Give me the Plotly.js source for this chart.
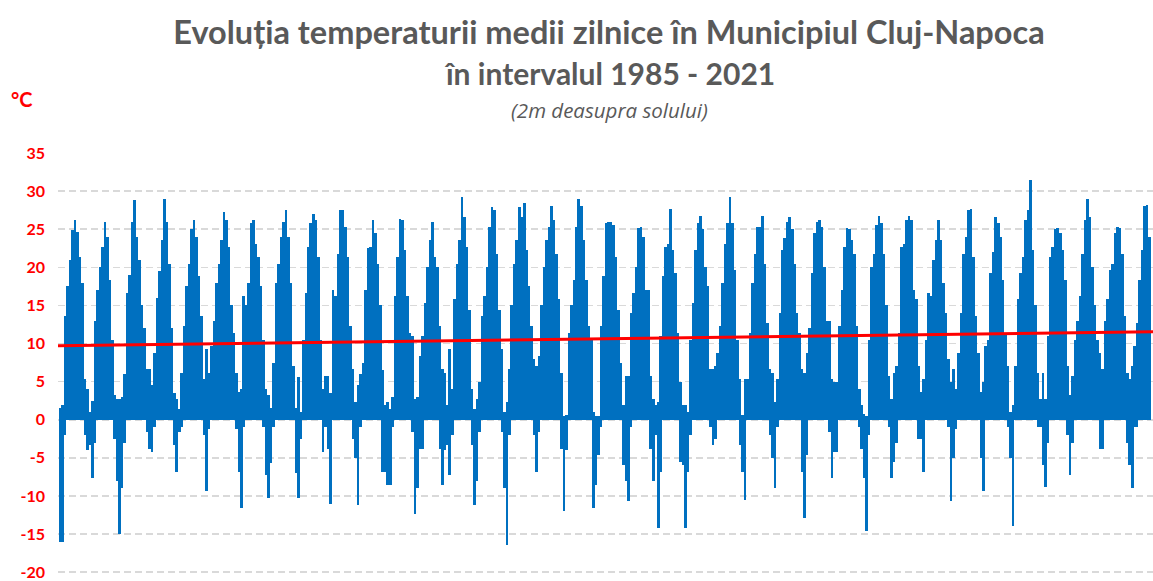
<!DOCTYPE html>
<html><head><meta charset="utf-8">
<script src="https://cdn.plot.ly/plotly-3.0.1.min.js"></script>
<style>html,body{margin:0;padding:0;background:#fff}#chart{width:1153px;height:581px}</style>
</head><body><div id="chart"></div>
<script>
const years = [1985,1986,1987,1988,1989,1990,1991,1992,1993,1994,1995,1996,1997,1998,1999,2000,2001,2002,2003,2004,2005,2006,2007,2008,2009,2010,2011,2012,2013,2014,2015,2016,2017,2018,2019,2020,2021];

// highest daily mean temperature visible in each month (°C)
const monthlyMax = [
[1.6,2,13.6,17.5,21,24.9,26.2,24.7,21.4,18,5.3,4],
[1,2.5,13,17,20,22.7,26,24,18.4,10.5,3.2,2.7],
[2.7,3,6,16.6,19,26,28.8,24,21,15,12,6.6],
[6.6,4.5,8.8,16,19.5,23.6,29,26,20.5,12,3.5,2.7],
[1.4,6.2,12.3,17.5,20.5,25,26.2,24,18.8,13.6,5.3,9.3],
[6.2,9.7,13,18,20.5,23.6,27.3,26.2,22.7,15,11.4,6.2],
[3.6,4,16.2,15,18,25.8,26.2,23,21.4,17.5,10.5,4],
[3.2,1.5,7.5,18,20.5,24,26,27.5,24,18,7,1.5],
[5.6,1,10.5,16.6,22.7,25.8,27,26.2,21.4,10.5,4,5.8],
[5.8,3.5,17,16.2,21.8,27.5,27.5,25.3,21.4,12.3,6.6,2.3],
[4.5,6,7.5,17,22.5,22.7,26.2,24.5,20.5,15,6.5,2],
[2.3,1.4,3,16.2,21.4,26.4,26.2,22.3,16.2,11.4,11,2.7],
[3,8.4,11,15.3,20,23.6,26,21.4,20,12.3,6.6,6.2],
[1.9,9.3,4,15.8,20.5,23.6,29.2,26.6,22.7,14.4,4,1.4],
[2.7,4.9,13.6,16.2,20,25.3,27.9,27.5,21.8,14.4,9.3,1],
[2.3,6.6,15,20.5,23.6,27.9,26.6,28.4,22.3,17.5,12.3,8],
[7,8.4,15,20,23.6,25.3,28,26.2,21.8,15.8,6.2,0.5],
[0.6,11.4,15,18.4,25.3,29,28,23.6,18.4,12.3,10.5,1],
[0.5,0.5,12.3,18.8,25.8,26,26,25.5,21.4,14.4,7.5,1.9],
[5.8,5.8,14,16.6,20,25.1,25.3,24,17,17,5.8,2.7],
[1.9,2.3,11,18.8,22.7,23,27.7,22.3,19.2,11.4,5,1.9],
[1.9,1,10.5,15.3,22.3,25.8,26.8,25,20,17.5,6.6,6.6],
[7,8.8,12.3,18,23,25.8,29.2,25.8,19.6,10.5,5.3,0.6],
[5.3,5.3,11.4,18,21.8,25.3,25.3,26.8,20.5,12.7,6.6,6.2],
[2.3,5.3,14,22.3,23.8,26,26.6,25,20.5,14,11.4,6.6],
[6.2,8.8,12,19.2,24.5,26,26.2,25.3,20,13,13,5.3],
[4.9,4.9,12.3,17,22.7,25.1,25,23.6,21.8,12.3,4,1.9],
[0.8,0.5,10.5,20,21.8,25.5,26.8,25.8,21.8,15,5.8,2.7],
[6.2,7,11.4,22.7,23,26.2,26.8,26.2,17,15.8,7,3.6],
[5.3,10.5,16.6,16.2,21,23.6,26.2,23.6,18,14,8,5],
[6.6,4,8.8,14,21.8,24,27.5,27.7,21.4,13.6,8.8,3.6],
[4.9,9.7,10.5,19.2,22,26.6,25.8,24,18.4,11.4,7,1],
[1.9,7,15.8,19.2,21.4,26.2,27.5,31.4,22.3,15,6.2,2.7],
[6.2,2.7,11,21.4,22.7,25,25.1,24.5,22.3,18.4,7,3.2],
[5.8,10.5,13,16.2,21.8,26.2,29,26.6,20,15,10.5,8.8],
[6.6,13,15.8,19.7,20.5,24.5,25.3,25.1,21.8,13.6,6.2,5.3],
[7,9.7,12.7,18.4,22.3,28,28.2,24]
];

// lowest daily mean temperature below zero in each month (°C, 0 = none)
const monthlyMin = [
[-16,-16,-2,0,0,0,0,0,0,0,-2,-4],
[-3.3,-7.7,-3,0,0,0,0,0,0,0,-2.5,-8.1],
[-15,-9,-3,0,0,0,0,0,0,0,0,-1.6],
[-3.8,-4.2,-1,0,0,0,0,0,0,0,-3.3,-6.8],
[-1.6,-1,0,0,0,0,0,0,0,0,-2,-9.4],
[-1.2,0,0,0,0,0,0,0,0,0,0,-1.2],
[-6.8,-11.6,-1,0,0,0,0,0,0,0,-1,-7.3],
[-10.3,-5.7,-1,0,0,0,0,0,0,0,0,-7],
[-10.3,-2.5,0,0,0,0,0,0,0,0,-4.2,-1],
[-3.8,-11,0,0,0,0,0,0,0,0,-2.5,-5],
[-11.2,-1,0,0,0,0,0,0,0,0,-6.8,-6.8],
[-8.6,-8.6,-1,0,0,0,0,0,0,0,-1.6,-12.3],
[-9,-3.8,-3.8,0,0,0,0,0,0,-3.8,-8.6,-4],
[-3.3,-7.3,-2,0,0,0,0,0,0,0,-3.3,-11.2],
[-8.1,-1.6,0,0,0,0,0,0,0,0,-1.6,-9],
[-16.4,-2,0,0,0,0,0,0,0,0,0,-2],
[-6.8,-1.6,0,0,0,0,0,0,0,0,-3.8,-12],
[-4,0,0,0,0,0,0,0,0,0,0,-11.6],
[-8.6,-4.6,-1,0,0,0,0,0,0,0,0,-6],
[-8.1,-10.7,-1,0,0,0,0,0,0,0,-3.8,-8.1],
[-2,-14.2,-6.8,0,0,0,0,0,0,0,-5.5,-6],
[-14.2,-6.8,-2,0,0,0,0,0,0,0,-1,-3.3],
[-2.5,0,0,0,0,0,0,0,0,0,-3.3,-6.8],
[-10.5,0,0,0,0,0,0,0,0,0,-2,-5],
[-9,-1,0,0,0,0,0,0,0,0,0,-6.8],
[-12.9,-4.6,0,0,0,0,0,0,0,0,-1.6,-7.7],
[-4.2,-4.2,0,0,0,0,0,0,0,0,-1,-3.8],
[-7.7,-14.6,-2,0,0,0,0,0,0,0,-1,-7.7],
[-5.5,-3,0,0,0,0,0,0,0,0,-2.5,-2.5],
[-6.8,0,0,0,0,0,0,0,0,0,-1,-10.7],
[-5,-1.2,0,0,0,0,0,0,0,0,0,-5],
[-9.4,0,0,0,0,0,0,0,0,0,-1,-5],
[-14,0,0,0,0,0,0,0,0,0,-1,-1],
[-6,-8.8,-3,0,0,0,0,0,0,0,-2,-7.3],
[-3,0,0,0,0,0,0,0,0,0,0,-3.8],
[-3.8,0,0,0,0,0,0,0,0,0,-3,-6],
[-9,-1,-1,0,0,0,0,0]
];

const yTicks = [-20,-15,-10,-5,0,5,10,15,20,25,30,35];
const trendX = [1984.97, 2021.74];
const trendY = [9.7, 11.55];

const xs = [], hi = [], lo = [];
years.forEach((yr, i) => {
  monthlyMax[i].forEach((v, m) => {
    xs.push(yr + (m + 0.5) / 12);
    hi.push(v);
    lo.push(monthlyMin[i][m]);
  });
});

const blue = '#0070C0';
const traces = [
  {type:'bar', x:xs, y:hi, width:0.0875, marker:{color:blue, line:{width:0}}, hoverinfo:'skip', name:'max'},
  {type:'bar', x:xs, y:lo, width:0.0875, marker:{color:blue, line:{width:0}}, hoverinfo:'skip', name:'min'},
  {type:'scatter', mode:'lines', x:trendX, y:trendY, line:{color:'#FF0000', width:3}, hoverinfo:'skip', name:'trend'}
];

const gray = '#595959';
const pb = 576, ph = 423; // plot bottom and height in pixels
const py = p => (pb - p) / ph;
const layout = {
  width:1153, height:581,
  margin:{l:58, r:0, t:153, b:5, pad:0},
  paper_bgcolor:'#fff', plot_bgcolor:'#fff',
  showlegend:false, barmode:'overlay', bargap:0,
  font:{family:'Lato, "Liberation Sans", sans-serif'},
  title:{text:'Evoluția temperaturii medii zilnice în Municipiul Cluj-Napoca',
    font:{family:'Lato', size:32.5, color:gray, weight:'bold'},
    xref:'container', x:609/1153, xanchor:'center',
    yref:'container', y:1-33/581, yanchor:'middle'},
  xaxis:{range:[1984.97, 2021.74], visible:false, fixedrange:true},
  yaxis:{range:[-20.5,35], tickvals:yTicks, ticktext:yTicks.map(String),
    tickfont:{family:'Lato', size:16, color:'#FF0000', weight:'bold'},
    ticklabeloverflow:'allow',
    showgrid:true, gridcolor:'#D9D9D9', gridwidth:1.5, griddash:'7px,4px',
    zeroline:false, showline:false, ticks:'', ticklabelstandoff:12, fixedrange:true},
  annotations:[
    {text:'în intervalul 1985 - 2021', xref:'paper', yref:'paper', x:(609-58)/1095, y:py(73),
      xanchor:'center', yanchor:'middle', showarrow:false,
      font:{family:'Lato', size:30, color:gray, weight:'bold'}},
    {text:'<i>(2m deasupra solului)</i>', xref:'paper', yref:'paper', x:(609-58)/1095, y:py(110),
      xanchor:'center', yanchor:'middle', showarrow:false,
      font:{family:'Open Sans', size:20.5, color:gray}},
    {text:'<b>°C</b>', xref:'paper', yref:'paper', x:(22-58)/1095, y:py(99),
      xanchor:'center', yanchor:'middle', showarrow:false,
      font:{family:'Lato', size:20, color:'#FF0000'}}
  ]
};

Plotly.newPlot('chart', traces, layout, {displayModeBar:false, staticPlot:true});
</script>
</body></html>
